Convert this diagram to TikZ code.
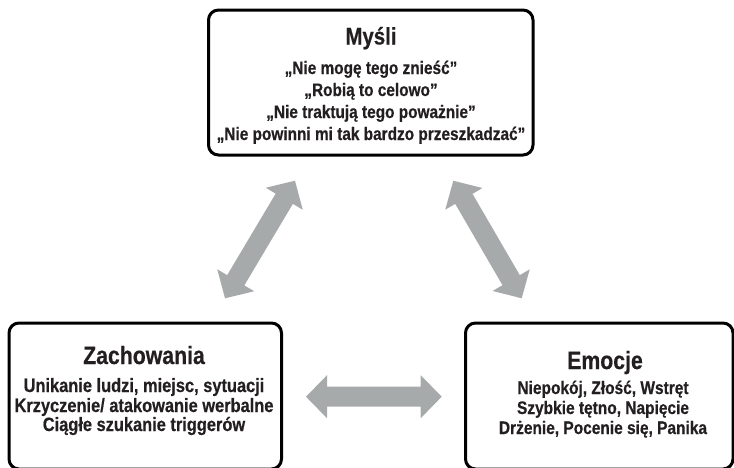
\documentclass[tikz,border=0pt]{standalone}
\usepackage{fontspec}
\setmainfont{Liberation Sans}[FakeStretch=0.85, BoldFeatures={FakeBold=0.5}]
\usetikzlibrary{calc}
\definecolor{arrowgray}{HTML}{A7AAAB}
\definecolor{ink}{HTML}{231F20}
\newcommand\dblarrow[2]{%
  \fill[arrowgray] (#1)
    -- ($(#1)!21pt!(#2)!21.5pt!90:(#2)$)
    -- ($(#1)!21pt!(#2)!10pt!90:(#2)$)
    -- ($(#2)!21pt!(#1)!10pt!-90:(#1)$)
    -- ($(#2)!21pt!(#1)!21.5pt!-90:(#1)$)
    -- (#2)
    -- ($(#2)!21pt!(#1)!21.5pt!90:(#1)$)
    -- ($(#2)!21pt!(#1)!10pt!90:(#1)$)
    -- ($(#1)!21pt!(#2)!10pt!-90:(#2)$)
    -- ($(#1)!21pt!(#2)!21.5pt!-90:(#2)$)
    -- cycle;}
\tikzset{
  box/.style={draw=black, line width=3pt, rounded corners=10pt, inner sep=0pt, fill=white},
  txt/.style={inner sep=0pt, anchor=base, text=ink, font=\bfseries},
  ttitle/.style={txt, font=\bfseries\fontsize{#1}{#1}\selectfont},
  tbody/.style={txt, font=\bfseries\fontsize{#1}{#1}\selectfont}
}
\begin{document}
\begin{tikzpicture}[x=1pt,y=-1pt]
\useasboundingbox (0,0) rectangle (734,467);
\clip (0,0) rectangle (734,467);
% boxes
\node[box, minimum width=324.5pt, minimum height=145pt] (mysli) at (370.75,82.5) {};
\node[box, minimum width=272.5pt, minimum height=146pt] (zach) at (145.25,396) {};
\node[box, minimum width=267.5pt, minimum height=146pt] (emo) at (599.25,396) {};
% top texts
\node[ttitle=24] (t1) at (371,44.5) {Myśli};
\node[tbody=18.1] (t1a) at (371,74) {„Nie mogę tego znieść”};
\node[tbody=18.1] (t1b) at (371,96) {„Robią to celowo”};
\node[tbody=18.1] (t1c) at (371,118) {„Nie traktują tego poważnie”};
\node[tbody=18.1] (t1d) at (371,140) {„Nie powinni mi tak bardzo przeszkadzać”};
% left texts
\node[ttitle=25] (t2) at (144,364) {Zachowania};
\node[tbody=19.3] (t2a) at (144,392) {Unikanie ludzi, miejsc, sytuacji};
\node[tbody=19.3] (t2b) at (144,412) {Krzyczenie/ atakowanie werbalne};
\node[tbody=19.3] (t2c) at (144,431) {Ciągłe szukanie triggerów};
% right texts
\node[ttitle=25] (t3) at (605,369) {Emocje};
\node[tbody=18.2] (t3a) at (603,394) {Niepokój, Złość, Wstręt};
\node[tbody=18.2] (t3b) at (603,414) {Szybkie tętno, Napięcie};
\node[tbody=18.2] (t3c) at (603,434) {Drżenie, Pocenie się, Panika};
% arrow ends
\coordinate (a1s) at (225,298.3);
\coordinate (a1e) at (295,180.7);
\coordinate (a2s) at (453.3,180.7);
\coordinate (a2e) at (521.7,298.3);
\coordinate (a3s) at (306,396.7);
\coordinate (a3e) at (441.7,396.7);
\dblarrow{a1s}{a1e}
\dblarrow{a2s}{a2e}
\dblarrow{a3s}{a3e}
\end{tikzpicture}
\end{document}
